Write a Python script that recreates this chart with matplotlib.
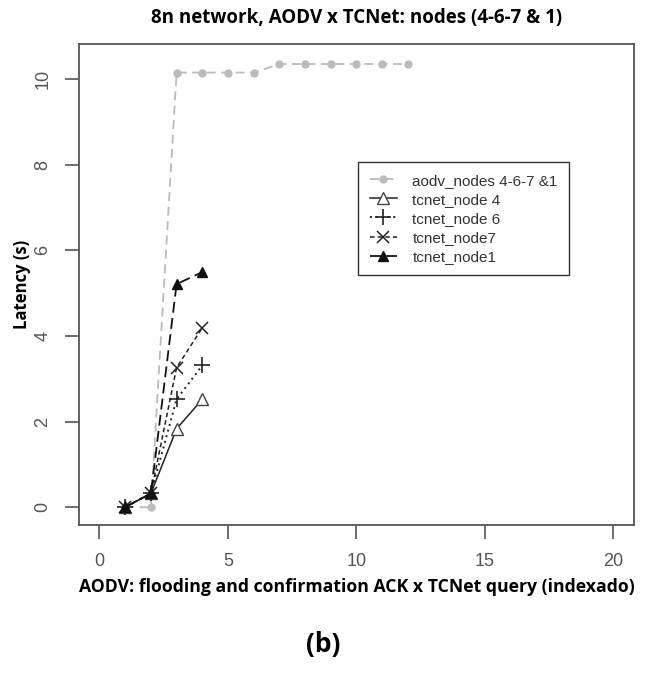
import matplotlib
matplotlib.use('Agg')
import matplotlib.pyplot as plt

# values
x_aodv = [1, 2, 3, 4, 5, 6, 7, 8, 9, 10, 11, 12]
y_aodv = [0, 0, 10.15, 10.15, 10.15, 10.15, 10.35, 10.35, 10.35, 10.35, 10.35, 10.35]
x_tc = [1, 2, 3, 4]
y_node4 = [0, 0.32, 1.83, 2.52]
y_node6 = [0, 0.32, 2.52, 3.31]
y_node7 = [0, 0.32, 3.26, 4.19]
y_node1 = [0, 0.32, 5.21, 5.49]
labels = ["aodv_nodes 4-6-7 &1", "tcnet_node 4", "tcnet_node 6", "tcnet_node7", "tcnet_node1"]
xticks = [0, 5, 10, 15, 20]
yticks = [0, 2, 4, 6, 8, 10]

fig = plt.figure(figsize=(6.47, 6.75), dpi=100)
ax = fig.add_axes([0.122, 0.222, 0.858, 0.713])

ax.plot(x_aodv, y_aodv, color='#bbbbbb', linestyle=(0, (5, 3)), marker='o', markersize=5,
        linewidth=1.3, label=labels[0])
ax.plot(x_tc, y_node4, color='#222222', linestyle='-', marker='^', markersize=8,
        markerfacecolor='white', markeredgecolor='#444444', linewidth=1.1, label=labels[1])
ax.plot(x_tc, y_node6, color='#222222', linestyle=(0, (1, 2)), marker='+', markersize=11,
        markeredgewidth=1.2, linewidth=1.4, label=labels[2])
ax.plot(x_tc, y_node7, color='#222222', linestyle=(0, (3, 2)), marker='x', markersize=8,
        markeredgewidth=1.1, linewidth=1.1, label=labels[3])
ax.plot(x_tc, y_node1, color='#111111', linestyle=(0, (6, 3)), marker='^', markersize=7,
        linewidth=1.3, label=labels[4])

ax.set_xlim(-0.8, 20.8)
ax.set_ylim(-0.42, 10.82)
ax.set_xticks(xticks)
ax.set_yticks(yticks)
ax.tick_params(direction='out', length=10, width=1.2, color='#555555', labelcolor='#555555',
               labelsize=13, pad=10)
for lab in ax.get_xticklabels() + ax.get_yticklabels():
    lab.set_family('Liberation Sans')
for lab in ax.get_yticklabels():
    lab.set_rotation(90)
    lab.set_va('center')
for s in ax.spines.values():
    s.set_color('#555555')
    s.set_linewidth(1.3)

ax.set_title("8n network, AODV x TCNet: nodes (4-6-7 & 1)", fontsize=13.5, fontweight='bold',
             family='Open Sans', pad=15)
ax.set_xlabel("AODV: flooding and confirmation ACK x TCNet query (indexado)", fontsize=12.7,
              fontweight='bold', family='Open Sans', labelpad=6)
ax.set_ylabel("Latency (s)", fontsize=12, fontweight='bold', family='Open Sans', labelpad=2)

leg = ax.legend(loc='upper left', bbox_to_anchor=(0.503, 0.754), fancybox=False,
                framealpha=1, edgecolor='#333333', prop={'family': 'Liberation Sans', 'size': 11},
                handlelength=1.8, handletextpad=1.0, borderpad=0.75, labelspacing=0.33,
                borderaxespad=0)
leg.get_frame().set_linewidth(1.0)
for t in leg.get_texts():
    t.set_color('#333333')

fig.text(0.5, 0.045, "(b)", ha='center', va='center', fontsize=19, fontweight='bold',
         family='Open Sans')

plt.savefig("out.png", dpi=100)
